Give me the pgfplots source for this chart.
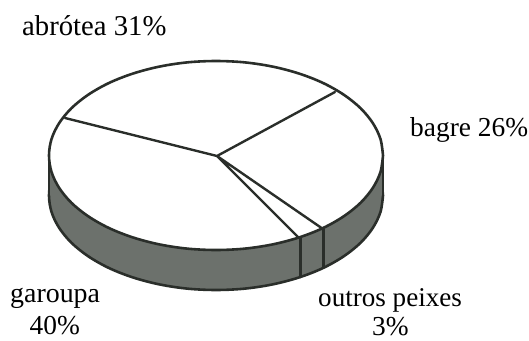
\documentclass[border=0pt]{standalone}
\usepackage{fontspec}
\setmainfont{Liberation Serif}
\usepackage{pgfplots}
\pgfplotsset{compat=1.18}
\definecolor{wall}{HTML}{6C716C}
\definecolor{ink}{HTML}{2A2E2A}
\begin{document}
\begin{tikzpicture}
\begin{axis}[
  scale only axis, width=529bp, height=341bp,
  xmin=0, xmax=529, ymin=0, ymax=341, y dir=reverse,
  axis lines=none, clip=false,
  every axis plot/.append style={line join=round, line cap=round},
]
% keeps the picture's frame at the full 529 x 341
\addplot[draw=none, forget plot] coordinates {(0,0)(529,341)};
% side wall: lower rim
\addplot[draw=ink, line width=2.6pt, fill=wall, smooth, tension=0.55] coordinates {
(383,195.5)(380.5,211.9)(372.9,227.8)(360.6,242.75)(343.9,256.2)(323.3,267.9)(299.5,277.3)(273.1,284.3)(245,288.6)(216,290)(187,288.6)(158.9,284.3)(132.5,277.3)(108.7,267.9)(88.1,256.2)(71.4,242.75)(59.1,227.8)(51.5,211.9)(49,195.5)(51.5,179.1)(59.1,163.2)(71.4,148.25)(88.1,134.8)(108.7,123.1)(132.5,113.7)(158.9,106.7)(187,102.4)(216,101)(245,102.4)(273.1,106.7)(299.5,113.7)(323.3,123.1)(343.9,134.8)(360.6,148.25)(372.9,163.2)(380.5,179.1)(383,195.5)};
% side wall: body
\addplot[draw=none, fill=wall] coordinates {(49,155.5)(383,155.5)(383,195.5)(49,195.5)(49,155.5)};
\addplot[draw=ink, line width=2.6pt] coordinates {(49,155.5)(49,195.5)};
\addplot[draw=ink, line width=2.6pt] coordinates {(383,155.5)(383,195.5)};
% top face
\addplot[draw=ink, line width=2.6pt, fill=white, smooth, tension=0.55] coordinates {
(383,155.5)(380.5,171.9)(372.9,187.8)(360.6,202.75)(343.9,216.2)(323.3,227.9)(299.5,237.3)(273.1,244.3)(245,248.6)(216,250)(187,248.6)(158.9,244.3)(132.5,237.3)(108.7,227.9)(88.1,216.2)(71.4,202.75)(59.1,187.8)(51.5,171.9)(49,155.5)(51.5,139.1)(59.1,123.2)(71.4,108.25)(88.1,94.8)(108.7,83.1)(132.5,73.7)(158.9,66.7)(187,62.4)(216,61)(245,62.4)(273.1,66.7)(299.5,73.7)(323.3,83.1)(343.9,94.8)(360.6,108.25)(372.9,123.2)(380.5,139.1)(383,155.5)};
% slices
\addplot[draw=ink, line width=2.4pt] coordinates {(335,92)(217,156)(65,118)};
\addplot[draw=ink, line width=2.4pt] coordinates {(299,238)(217,156)(323,229)};
% wall dividers
\addplot[draw=ink, line width=2.4pt] coordinates {(300.5,238)(300.5,277)};
\addplot[draw=ink, line width=2.4pt] coordinates {(323.5,229)(323.5,267)};
\node[anchor=base west, font=\fontsize{28.8}{28.8}\selectfont, inner sep=0] at (axis cs:22,35) {abrótea 31\%};
\node[anchor=base west, font=\fontsize{27.5}{27.5}\selectfont, inner sep=0] at (axis cs:410,136) {bagre 26\%};
\node[anchor=base west, font=\fontsize{28}{28}\selectfont, inner sep=0] at (axis cs:10,302) {garoupa};
\node[anchor=base west, font=\fontsize{27.5}{27.5}\selectfont, inner sep=0] at (axis cs:29.5,334) {40\%};
\node[anchor=base west, font=\fontsize{27.2}{27.2}\selectfont, inner sep=0] at (axis cs:318,306) {outros peixes};
\node[anchor=base west, font=\fontsize{27.5}{27.5}\selectfont, inner sep=0] at (axis cs:372,335.5) {3\%};
\end{axis}
\end{tikzpicture}
\end{document}
